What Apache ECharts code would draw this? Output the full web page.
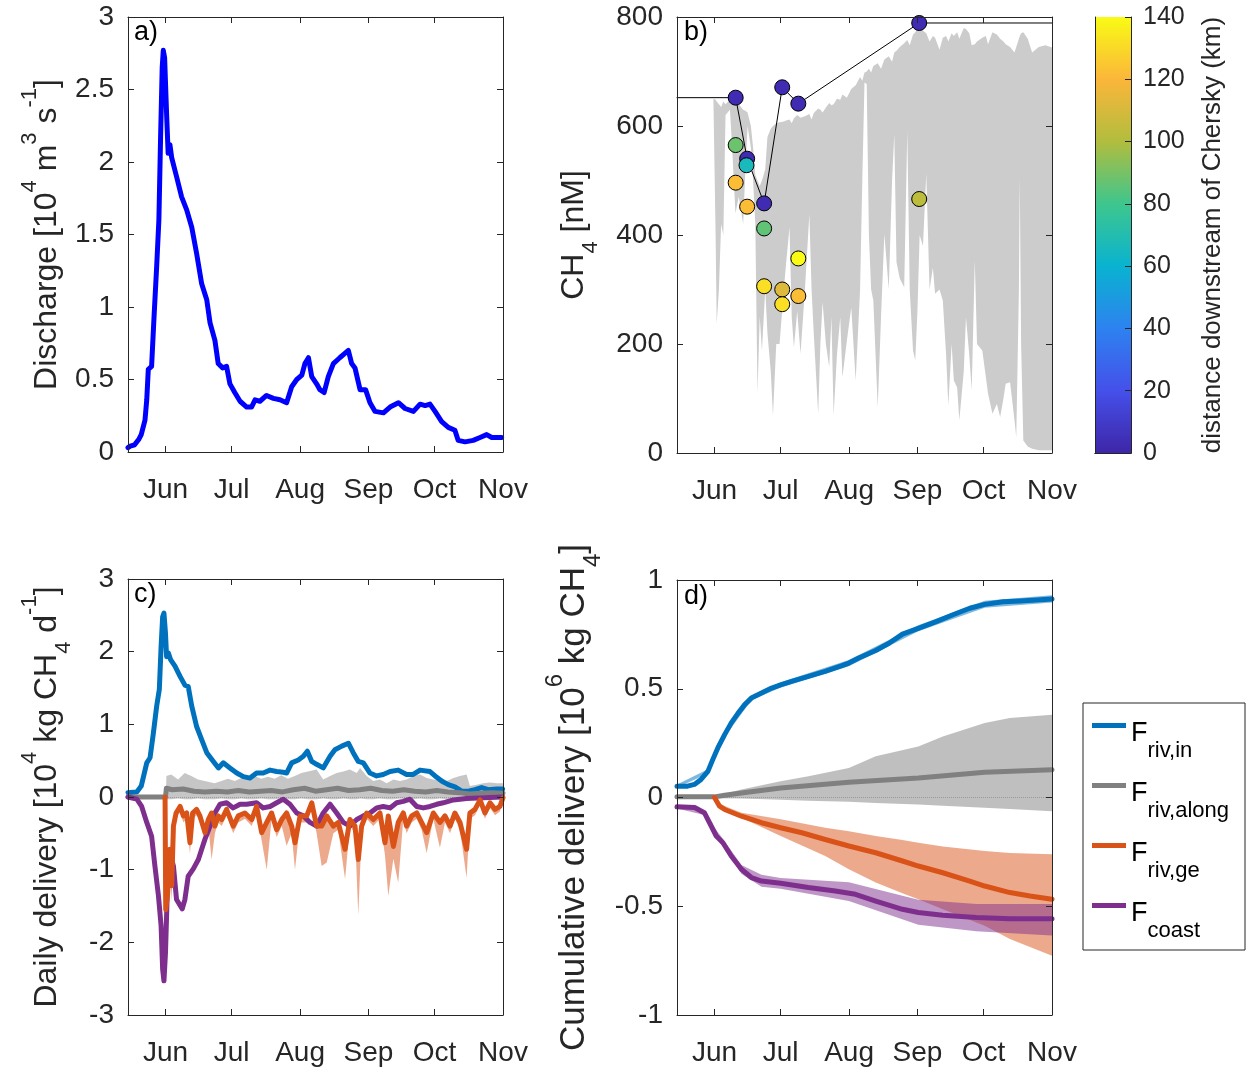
<!DOCTYPE html>
<html><head><meta charset="utf-8">
<script src="https://cdn.jsdelivr.net/npm/echarts/dist/echarts.min.js"></script>
<style>html,body{margin:0;padding:0;background:#fff}#c{width:1251px;height:1067px}</style>
</head><body><div id="c"></div>
<script>
// ---------- shared x axis (day of year) ----------
const monthTicks = [152, 182, 213, 244, 274, 305];
const monthNames = ['Jun', 'Jul', 'Aug', 'Sep', 'Oct', 'Nov'];

// ---------- panel a: discharge [1e4 m3/s] ----------
const aDay = [135,136,138,140,141,142.7,143.5,144.2,145.7,146.8,148,149,149.8,150.5,151,151.6,152.5,153.2,154,154.8,157,159.3,161.6,163.9,166.1,168.4,170.7,172.2,174.4,175.9,177.9,179.7,181.2,183.4,185.8,188.8,191,192.6,194.8,197.8,200.9,203.9,206.9,209.2,211.5,213.8,215.2,216.8,218.3,220.5,222,223.9,225.8,228.1,231,233.3,234.9,236.4,237.9,240.2,242.7,244.7,247,250.8,253.8,257.6,260.6,264.4,267.4,269.7,271.9,274.2,277.2,280.2,283.2,284.7,287.8,291.5,294.6,297.6,299.9,304.4];
const aQ   = [0.03,0.04,0.05,0.09,0.12,0.22,0.36,0.57,0.59,0.93,1.28,1.6,2.19,2.65,2.77,2.72,2.33,2.06,2.12,2.03,1.9,1.76,1.67,1.55,1.37,1.16,1.05,0.89,0.77,0.61,0.58,0.59,0.47,0.41,0.35,0.31,0.31,0.36,0.35,0.39,0.37,0.36,0.34,0.45,0.5,0.53,0.61,0.65,0.52,0.47,0.43,0.41,0.52,0.61,0.65,0.68,0.70,0.61,0.58,0.43,0.43,0.34,0.28,0.27,0.31,0.34,0.30,0.28,0.33,0.32,0.33,0.28,0.21,0.17,0.15,0.08,0.07,0.08,0.10,0.12,0.10,0.10];

// ---------- panel b: CH4 [nM] ----------
const bBandDay = [151.5,152.5,153,154,155,156,157,159,160,161.5,163,165,166,167,168.5,169.5,170.5,171.5,172.5,173.5,175,176,177.5,178.5,180,181.5,183,184.5,186,187,188,189.5,191,193,195,196,197,199,200,201,202.5,204,205,206,207.5,209,210,212,214,216,218,219,220,221,222,223,224,226,227.5,229,231,232.5,233.5,234.5,236,238,239.4,240.5,242,243,244,245,246.5,248,249.5,251,252,254,255.5,257,258,259.5,260.5,262,263,265,266,267.5,268.6,270,271,273.4,275,276,278,280,281.5,283,284,286,288,288.8,290,290.4,291,292,294,296,299,302,305];
const bBandHi  = [650,648,645,640,635,645,640,648,650,652,640,630,628,625,600,560,510,500,490,500,520,580,595,600,605,607,608,610,612,605,614,620,615,618,622,612,624,632,630,625,634,642,638,640,650,648,658,652,668,675,690,683,698,700,705,698,710,715,705,722,728,718,735,738,745,752,758,748,768,772,780,788,775,770,755,765,762,740,762,765,755,770,765,772,760,780,778,770,748,750,755,762,765,750,772,768,760,755,750,745,735,745,760,765,770,772,760,735,745,748,744];
const bBandLo  = [650,400,237,300,420,400,620,630,560,440,470,420,520,600,560,500,420,109,250,188,300,220,150,69,200,200,280,350,414,250,194,260,182,300,438,300,219,72,200,277,200,158,250,69,180,249,139,206,267,133,300,500,680,677,400,300,280,84,250,402,300,500,585,350,320,304,591,300,188,170,260,400,380,512,300,340,292,300,280,180,87,200,133,120,60,150,249,180,115,353,200,188,140,109,72,90,66,100,127,130,60,29,300,506,200,23,12,8,5,5,5];
const bLineDay = [135,161.6,166.8,174.5,182.7,190,244.8,305];
const bLineVal = [652,652,540,458,671,641,789,789];
const bPtDay  = [161.6,166.8,174.5,182.7,190,244.8,161.6,166.5,161.6,166.8,174.5,174.5,182.7,182.7,190,190,244.8];
const bPtVal  = [652,540,458,671,641,789,565,528,496,452,412,306,300,273,357,288,466];
const bPtDist = [3,3,3,3,3,3,88,66,122,122,86,132,112,132,140,122,103];
const cbTicks = [0,20,40,60,80,100,120,140];

// ---------- panel c: daily delivery [1e4 kg CH4/d] ----------
const cInDay = [135,139,141,143.5,145,146.5,148,149.2,150,150.7,151.3,152,152.5,153.3,154.3,156.3,158.6,160.8,162.3,163.9,166.1,168.4,170.7,173.7,176,178.2,181.2,184.3,187.3,190.3,193.3,196.3,199.4,202.4,205.4,206.9,209.2,212.2,214.5,216.3,218.3,220.5,223.5,226.6,228.8,231.9,234.9,237.1,239.4,241.7,244.7,247.7,250.7,253.8,257.5,261.3,264.3,267.4,271.9,274.2,277.2,280.2,283.2,286.3,289.3,292.3,295.3,298.3,302.1,304.8];
const cInVal = [0.06,0.07,0.15,0.47,0.54,0.88,1.25,1.48,2.07,2.48,2.53,2.25,1.93,1.98,1.89,1.80,1.66,1.54,1.52,1.25,0.97,0.79,0.61,0.49,0.40,0.47,0.40,0.33,0.28,0.26,0.33,0.33,0.37,0.35,0.34,0.33,0.47,0.51,0.56,0.63,0.49,0.45,0.40,0.56,0.65,0.70,0.74,0.61,0.49,0.47,0.33,0.29,0.31,0.35,0.37,0.31,0.31,0.37,0.35,0.29,0.22,0.17,0.14,0.08,0.08,0.10,0.13,0.10,0.11,0.11];
const cAlDay = [135,152,152.4,155,160,165,170,175,180,185,190,195,200,205,210,215,220,225,230,235,240,245,250,255,260,265,270,275,280,285,290,295,300,305];
const cAlVal = [0,0,0.12,0.1,0.11,0.08,0.07,0.08,0.07,0.09,0.07,0.08,0.09,0.07,0.1,0.12,0.08,0.1,0.12,0.09,0.1,0.12,0.09,0.08,0.1,0.08,0.07,0.09,0.07,0.06,0.04,0.05,0.06,0.05];
const cAlBandDay = [152.2,152.4,154.6,157.7,160.7,163.7,166.7,169.8,174.3,177.3,180.3,183.4,186.4,189.4,192.4,195.4,198.5,201.5,204.5,207.5,210.6,213.6,216.6,220.5,223.5,226.6,229.6,232.6,235.6,238.7,240.2,243.2,246.2,249.2,252.3,255.3,258.3,261.3,264.3,267.4,270.4,273.4,276.4,279.5,282.5,285.5,288.5,290,293.1,296.1,299.1,302.1,305];
const cAlBandHi  = [0,0.29,0.31,0.24,0.33,0.29,0.24,0.22,0.19,0.22,0.25,0.22,0.26,0.25,0.29,0.25,0.28,0.25,0.30,0.25,0.29,0.33,0.35,0.38,0.24,0.29,0.33,0.35,0.38,0.33,0.40,0.29,0.22,0.24,0.19,0.24,0.22,0.24,0.29,0.31,0.26,0.24,0.22,0.22,0.26,0.29,0.31,0.15,0.17,0.19,0.2,0.19,0.19];
const cAlBandLo  = [0,-0.03,-0.03,-0.02,-0.03,-0.03,-0.02,-0.03,-0.03,-0.02,-0.03,-0.03,-0.02,-0.03,-0.03,-0.02,-0.03,-0.03,-0.02,-0.03,-0.03,-0.02,-0.03,-0.03,-0.02,-0.03,-0.03,-0.02,-0.03,-0.03,-0.02,-0.03,-0.03,-0.02,-0.03,-0.03,-0.02,-0.03,-0.03,-0.02,-0.03,-0.03,-0.02,-0.03,-0.03,-0.02,-0.03,-0.03,-0.02,-0.03,-0.03,-0.02,-0.03];
const cGeDay = [151.8,152.1,153.0,154.0,154.8,155.6,156.8,158.6,160.1,161.6,163.1,164.3,166.1,167.6,169.9,171.4,172.9,174.4,175.9,177.5,179.7,182.7,185.0,188.0,191.1,193.3,195.6,197.9,200.1,202.4,204.7,206.9,209.2,210.7,213.0,216.0,218.3,220.5,222.8,225.1,228.1,230.3,233.4,235.6,237.9,239.4,240.9,243.2,246.2,249.2,251.5,253.0,255.3,257.5,259.8,261.3,263.6,265.9,268.1,270.4,273.4,276.4,278.7,281.0,283.2,285.5,288.5,290.0,292.3,294.6,296.8,299.1,301.4,303.6,305.0];
const cGeVal = [0,-1.55,-1.32,-0.72,-1.22,-0.40,-0.22,-0.13,-0.26,-0.22,-0.63,-0.22,-0.17,-0.26,-0.49,-0.31,-0.22,-0.40,-0.26,-0.31,-0.17,-0.40,-0.26,-0.22,-0.31,-0.13,-0.49,-0.35,-0.22,-0.45,-0.31,-0.22,-0.40,-0.63,-0.26,-0.26,-0.08,-0.40,-0.40,-0.26,-0.40,-0.35,-0.72,-0.31,-0.40,-0.86,-0.40,-0.22,-0.31,-0.22,-0.63,-0.26,-0.68,-0.35,-0.22,-0.40,-0.26,-0.22,-0.35,-0.49,-0.22,-0.35,-0.26,-0.40,-0.22,-0.35,-0.72,-0.22,-0.17,-0.04,-0.22,-0.08,-0.17,-0.13,-0.01];
const cGeLo  = [0,-1.72,-1.6,-0.95,-1.45,-0.55,-0.3,-0.2,-0.35,-0.3,-0.78,-0.3,-0.25,-0.35,-0.6,-0.4,-0.86,-0.5,-0.35,-0.4,-0.25,-0.5,-0.35,-0.3,-0.4,-0.2,-0.6,-1.0,-0.3,-0.55,-0.4,-0.67,-0.5,-1.0,-0.35,-0.35,-0.15,-0.5,-0.95,-0.9,-0.5,-0.45,-1.13,-0.4,-0.5,-1.62,-0.5,-0.3,-0.4,-0.3,-0.8,-1.36,-0.85,-1.18,-0.3,-0.5,-0.35,-0.3,-0.45,-0.77,-0.3,-0.7,-0.35,-0.5,-0.3,-0.45,-1.11,-0.3,-0.25,-0.1,-0.3,-0.15,-0.25,-0.2,-0.05];
const cCoDay = [135,139,141.2,143.5,145.7,147.2,148.8,150,150.7,151.3,152,152.8,154,155.6,157,159.6,160.8,162.3,164.6,166.9,168.4,169.9,172.2,174.4,176.7,179.7,182.7,185.8,188.8,193.3,196.3,199.4,202.4,205.4,208.4,211.5,214.5,217.5,220.5,223.5,226.6,229.6,232.6,235.6,238.7,241.7,244.7,247.7,250.7,253.8,256.8,259.8,262.8,265.9,268.9,271.9,274.9,277.9,282.5,288.5,296,304.8];
const cCoVal = [0,-0.03,-0.13,-0.35,-0.54,-0.95,-1.36,-1.77,-2.37,-2.53,-2.14,-1.32,-0.77,-0.95,-1.41,-1.54,-1.41,-1.09,-0.99,-0.86,-0.72,-0.58,-0.40,-0.22,-0.10,-0.08,-0.15,-0.10,-0.10,-0.08,-0.15,-0.13,-0.08,-0.03,-0.10,-0.22,-0.26,-0.35,-0.40,-0.22,-0.10,-0.22,-0.35,-0.40,-0.31,-0.26,-0.22,-0.15,-0.13,-0.15,-0.08,-0.06,-0.03,-0.13,-0.15,-0.13,-0.10,-0.08,-0.04,-0.02,-0.01,0];

// ---------- panel d: cumulative delivery [1e6 kg CH4] ----------
const dInDay = [135,139.8,142.9,145.9,149,151.2,153.5,156.6,159.6,162.7,165.7,168.7,173.3,177.9,182,187,194.6,202.2,209.8,212.9,217.4,225.1,231.1,237.2,244.4,252.5,260.1,267.7,274.5,282.9,290.5,298.1,305];
const dInVal = [0.052,0.052,0.06,0.083,0.12,0.174,0.228,0.289,0.343,0.388,0.427,0.457,0.48,0.503,0.518,0.534,0.557,0.58,0.606,0.618,0.641,0.676,0.709,0.751,0.778,0.809,0.84,0.87,0.888,0.90,0.904,0.908,0.913];
const dInBandDay = [135,149,156.6,168.7,182,212.9,244.4,274.5,305];
const dInBandHi  = [0.06,0.13,0.30,0.468,0.53,0.632,0.792,0.905,0.93];
const dInBandLo  = [0.045,0.11,0.278,0.447,0.506,0.604,0.764,0.872,0.896];
const dAlDay = [135,152,156.6,164.2,182,212.9,244.4,274.5,305];
const dAlVal = [0.003,0.003,0.01,0.021,0.044,0.07,0.09,0.116,0.128];
const dAlBandDay = [135,152,164.2,182,194.6,212.9,225.1,244.4,255.5,274.5,285.9,305];
const dAlBandHi  = [0.004,0.006,0.037,0.075,0.098,0.136,0.19,0.235,0.28,0.342,0.365,0.381];
const dAlBandLo  = [-0.003,-0.003,-0.005,-0.01,-0.015,-0.02,-0.025,-0.032,-0.038,-0.047,-0.053,-0.063];
const dGeDay = [152,154.3,156.6,164.2,173.3,182,191.6,202.2,212.9,225.1,237.2,244.4,255.5,267.7,274.5,285.9,295,305];
const dGeVal = [0,-0.04,-0.055,-0.086,-0.116,-0.139,-0.162,-0.193,-0.223,-0.254,-0.292,-0.315,-0.346,-0.384,-0.407,-0.437,-0.453,-0.468];
const dGeBandDay = [152,154.3,164.2,182,202.2,212.9,225.1,237.2,244.4,255.5,274.5,285.9,305];
const dGeBandHi  = [0,-0.03,-0.07,-0.1,-0.139,-0.155,-0.177,-0.195,-0.208,-0.225,-0.246,-0.255,-0.261];
const dGeBandLo  = [0,-0.05,-0.093,-0.177,-0.269,-0.33,-0.391,-0.44,-0.468,-0.514,-0.59,-0.651,-0.728];
const dCoDay = [135,143,147.4,150.5,152.8,155.8,159.6,164.2,168.7,173.3,182,194.6,206.8,215.9,225.1,237.2,244.4,255.5,270.7,285.9,305];
const dCoVal = [-0.043,-0.046,-0.07,-0.131,-0.177,-0.208,-0.269,-0.33,-0.368,-0.384,-0.394,-0.414,-0.43,-0.445,-0.476,-0.514,-0.529,-0.541,-0.552,-0.557,-0.557];
const dCoBandDay = [135,147.4,150.5,155.8,164.2,173.3,182,212.9,244.4,270.7,305];
const dCoBandHi  = [-0.035,-0.06,-0.12,-0.19,-0.31,-0.355,-0.37,-0.39,-0.47,-0.49,-0.49];
const dCoBandLo  = [-0.05,-0.08,-0.14,-0.22,-0.35,-0.41,-0.42,-0.476,-0.585,-0.615,-0.635];

const legendNames = ['Friv,in', 'Friv,along', 'Friv,ge', 'Fcoast'];
const legendSubs  = ['riv,in', 'riv,along', 'riv,ge', 'coast'];

// ---------- styling ----------
const FONT = 'Liberation Sans';
const AX = '#262626';
const C_IN = '#0072BD', C_AL = '#808080', C_GE = '#D95319', C_CO = '#7E2F8E';
const parula = ['#3e26a8', '#4550ea', '#2d82f0', '#09b3d0', '#3ec68d', '#b1bd3e', '#fbb63a', '#f9fb15'];

function rich(fs, ss, off) {
  const pad = off - fs / 2 + ss / 2;
  const subPad = pad + fs / 2 + off - ss / 2;
  const base = { fontFamily: FONT, color: AX };
  return {
    t:   Object.assign({ fontSize: fs, lineHeight: fs, padding: [pad, 0, 0, 0], verticalAlign: 'top' }, base),
    sup: Object.assign({ fontSize: ss, lineHeight: ss, verticalAlign: 'top' }, base),
    sub: Object.assign({ fontSize: ss, lineHeight: ss, padding: [subPad, 0, 0, 0], verticalAlign: 'top' }, base)
  };
}

const grids = [
  { left: 128, top: 17,  width: 375, height: 435 },
  { left: 677, top: 17,  width: 375, height: 436 },
  { left: 128, top: 579, width: 375, height: 437 },
  { left: 677, top: 580, width: 375, height: 436 },
  { left: 1095, top: 17, width: 36, height: 436 }
];

const xAxis = [], yAxis = [];
function addX(g) {
  const base = { gridIndex: g, type: 'value', min: 135, max: 305, z: 10,
    axisLine: { show: true, onZero: false, lineStyle: { color: AX, width: 1 } },
    axisTick: { show: true, inside: true, length: 6, customValues: monthTicks, lineStyle: { color: AX } },
    splitLine: { show: false } };
  xAxis.push(Object.assign({}, base, { position: 'bottom',
    axisLabel: { show: true, customValues: monthTicks, margin: 24, fontSize: 28, color: AX, fontFamily: FONT,
      formatter: v => monthNames[monthTicks.indexOf(Math.round(v))] } }));
  xAxis.push(Object.assign({}, base, { position: 'top', axisLabel: { show: false } }));
}
function addY(g, min, max, interval, name, gap, r) {
  const base = { gridIndex: g, type: 'value', min, max, interval, z: 10,
    axisLine: { show: true, onZero: false, lineStyle: { color: AX, width: 1 } },
    axisTick: { show: true, inside: true, length: 6, lineStyle: { color: AX } },
    splitLine: { show: false } };
  yAxis.push(Object.assign({}, base, { position: 'left',
    axisLabel: { fontSize: 28, color: AX, fontFamily: FONT, margin: 14 },
    name, nameLocation: 'middle', nameGap: gap, nameRotate: 90, nameMoveOverlap: false,
    nameTextStyle: { fontFamily: FONT, color: AX, rich: r } }));
  yAxis.push(Object.assign({}, base, { position: 'right', axisLabel: { show: false } }));
}
addX(0); addY(0, 0, 3, 0.5, '{t|Discharge [10}{sup|4}{t| m}{sup|3}{t| s}{sup|-1}{t|]}', 77, rich(32, 22, 17));
addX(1); addY(1, 0, 800, 200, '{t|CH}{sub|4}{t| [nM]}', 99, rich(32, 22, 17));
addX(2); addY(2, -3, 3, 1, '{t|Daily delivery [10}{sup|4}{t| kg CH}{sub|4}{t| d}{sup|-1}{t|]}', 77, rich(32, 22, 17));
addX(3); addY(3, -1, 1, 0.5, '{t|Cumulative delivery [10}{sup|6}{t| kg CH}{sub|4}{t|]}', 99, rich(35, 24, 19));
// colorbar axes
xAxis.push({ gridIndex: 4, type: 'category', data: ['cb'], position: 'bottom', z: 10,
  axisLine: { show: true, lineStyle: { color: AX } }, axisTick: { show: false }, axisLabel: { show: false } });
xAxis.push({ gridIndex: 4, type: 'category', data: ['cb'], position: 'top', z: 10,
  axisLine: { show: true, lineStyle: { color: AX } }, axisTick: { show: false }, axisLabel: { show: false } });
yAxis.push({ gridIndex: 4, type: 'value', min: 0, max: 140, interval: 20, position: 'right', z: 10,
  axisLine: { show: true, lineStyle: { color: AX } },
  axisTick: { show: true, inside: true, length: 6, lineStyle: { color: AX } },
  axisLabel: { fontSize: 25, color: AX, fontFamily: FONT, margin: 12 },
  splitLine: { show: false },
  name: 'distance downstream of Chersky (km)', nameLocation: 'middle', nameRotate: 90, nameGap: 69,
  nameMoveOverlap: false,
  nameTextStyle: { fontSize: 26, fontFamily: FONT, color: AX, lineHeight: 26 } });
yAxis.push({ gridIndex: 4, type: 'value', min: 0, max: 140, position: 'left', z: 10,
  axisLine: { show: true, lineStyle: { color: AX } }, axisTick: { show: false }, axisLabel: { show: false },
  splitLine: { show: false } });

// ---------- series ----------
const series = [];
const pairs = (xs, ys) => xs.map((x, i) => [x, ys[i]]);
function line(ax, xs, ys, color, width, name, z) {
  series.push({ type: 'line', name: name || ('l' + series.length), xAxisIndex: ax, yAxisIndex: ax,
    data: pairs(xs, ys), symbol: 'none', showSymbol: false, silent: true, clip: true,
    lineStyle: { color, width, join: 'round', cap: 'round' }, itemStyle: { color }, z: z || 3 });
}
function band(ax, xs, lo, hi, color, extra) {
  const s = { type: 'custom', name: 'band' + series.length, xAxisIndex: ax, yAxisIndex: ax,
    silent: true, clip: true, z: 1,
    data: xs.map((x, i) => [x, lo[i], hi[i]]), encode: { x: 0, y: [1, 2] },
    renderItem: (params, api) => {
      if (params.dataIndex !== 0) return null;
      const top = xs.map((x, i) => api.coord([x, hi[i]]));
      const bot = xs.map((x, i) => api.coord([x, lo[i]])).reverse();
      return { type: 'polygon', shape: { points: top.concat(bot) }, style: { fill: color } };
    } };
  series.push(Object.assign(s, extra || {}));
}
const zeroMark = { silent: true, symbol: 'none', z: 2, label: { show: false },
  lineStyle: { type: 'dotted', color: '#9a9a9a', width: 1 }, data: [{ yAxis: 0 }] };

// panel a (axes index 0)
line(0, aDay, aQ, '#0000ff', 5);
// panel b (axes index 2)
band(2, bBandDay, bBandLo, bBandHi, '#cccccc');
line(2, bLineDay, bLineVal, '#000000', 1);
const scatterIndex = series.length;
series.push({ type: 'scatter', xAxisIndex: 2, yAxisIndex: 2, silent: true, z: 4,
  data: bPtDay.map((d, i) => [d, bPtVal[i], bPtDist[i]]), symbolSize: 15,
  itemStyle: { borderColor: '#000', borderWidth: 1, opacity: 1 } });
// panel c (axes index 4)
band(4, cAlBandDay, cAlBandLo, cAlBandHi, 'rgba(128,128,128,0.45)', { markLine: zeroMark });
band(4, cGeDay, cGeLo, cGeVal, 'rgba(217,83,25,0.5)');
line(4, cInDay, cInVal, C_IN, 5, 'c_in');
line(4, cAlDay, cAlVal, C_AL, 5, 'c_al');
line(4, cCoDay, cCoVal, C_CO, 5, 'c_co');
line(4, cGeDay, cGeVal, C_GE, 5, 'c_ge');
// panel d (axes index 6)
band(6, dAlBandDay, dAlBandLo, dAlBandHi, 'rgba(128,128,128,0.5)', { markLine: zeroMark });
band(6, dGeBandDay, dGeBandLo, dGeBandHi, 'rgba(217,83,25,0.5)');
band(6, dCoBandDay, dCoBandLo, dCoBandHi, 'rgba(126,47,142,0.5)');
band(6, dInBandDay, dInBandLo, dInBandHi, 'rgba(0,114,189,0.5)');
line(6, dInDay, dInVal, C_IN, 5, legendNames[0]);
line(6, dAlDay, dAlVal, C_AL, 5, legendNames[1]);
line(6, dGeDay, dGeVal, C_GE, 5, legendNames[2]);
line(6, dCoDay, dCoVal, C_CO, 5, legendNames[3]);
// colorbar
series.push({ type: 'bar', xAxisIndex: 8, yAxisIndex: 8, data: [cbTicks[cbTicks.length - 1]], barWidth: '100%',
  silent: true, z: 1,
  itemStyle: { color: new echarts.graphic.LinearGradient(0, 1, 0, 0,
    parula.map((c, i) => ({ offset: i / (parula.length - 1), color: c }))) } });

const option = {
  animation: false,
  backgroundColor: '#fff',
  textStyle: { fontFamily: FONT, color: AX },
  grid: grids,
  xAxis, yAxis, series,
  visualMap: { type: 'continuous', show: false, min: 0, max: 140, dimension: 2,
    seriesIndex: scatterIndex, inRange: { color: parula } },
  legend: {
    data: legendNames, orient: 'vertical', left: 1083, top: 703,
    icon: 'rect', itemWidth: 34, itemHeight: 5, itemGap: 10,
    padding: [9, 16, 8, 9], borderColor: AX, borderWidth: 1, selectedMode: false,
    formatter: n => '{f|F}{s|' + legendSubs[legendNames.indexOf(n)] + '}',
    textStyle: { rich: {
      f: { fontSize: 27, lineHeight: 27, padding: [8, 0, 0, 0], verticalAlign: 'top', fontFamily: FONT, color: '#000' },
      s: { fontSize: 22, lineHeight: 22, padding: [28, 0, 0, 0], verticalAlign: 'top', fontFamily: FONT, color: '#000' }
    } }
  },
  graphic: [
    { type: 'text', left: 134, top: 19, z: 20, style: { text: 'a)', fontSize: 27, fontFamily: FONT, fill: '#000' } },
    { type: 'text', left: 684, top: 19, z: 20, style: { text: 'b)', fontSize: 27, fontFamily: FONT, fill: '#000' } },
    { type: 'text', left: 134, top: 581, z: 20, style: { text: 'c)', fontSize: 27, fontFamily: FONT, fill: '#000' } },
    { type: 'text', left: 684, top: 583, z: 20, style: { text: 'd)', fontSize: 27, fontFamily: FONT, fill: '#000' } }
  ]
};
const chart = echarts.init(document.getElementById('c'), null, { renderer: 'canvas' });
chart.setOption(option);
</script></body></html>
